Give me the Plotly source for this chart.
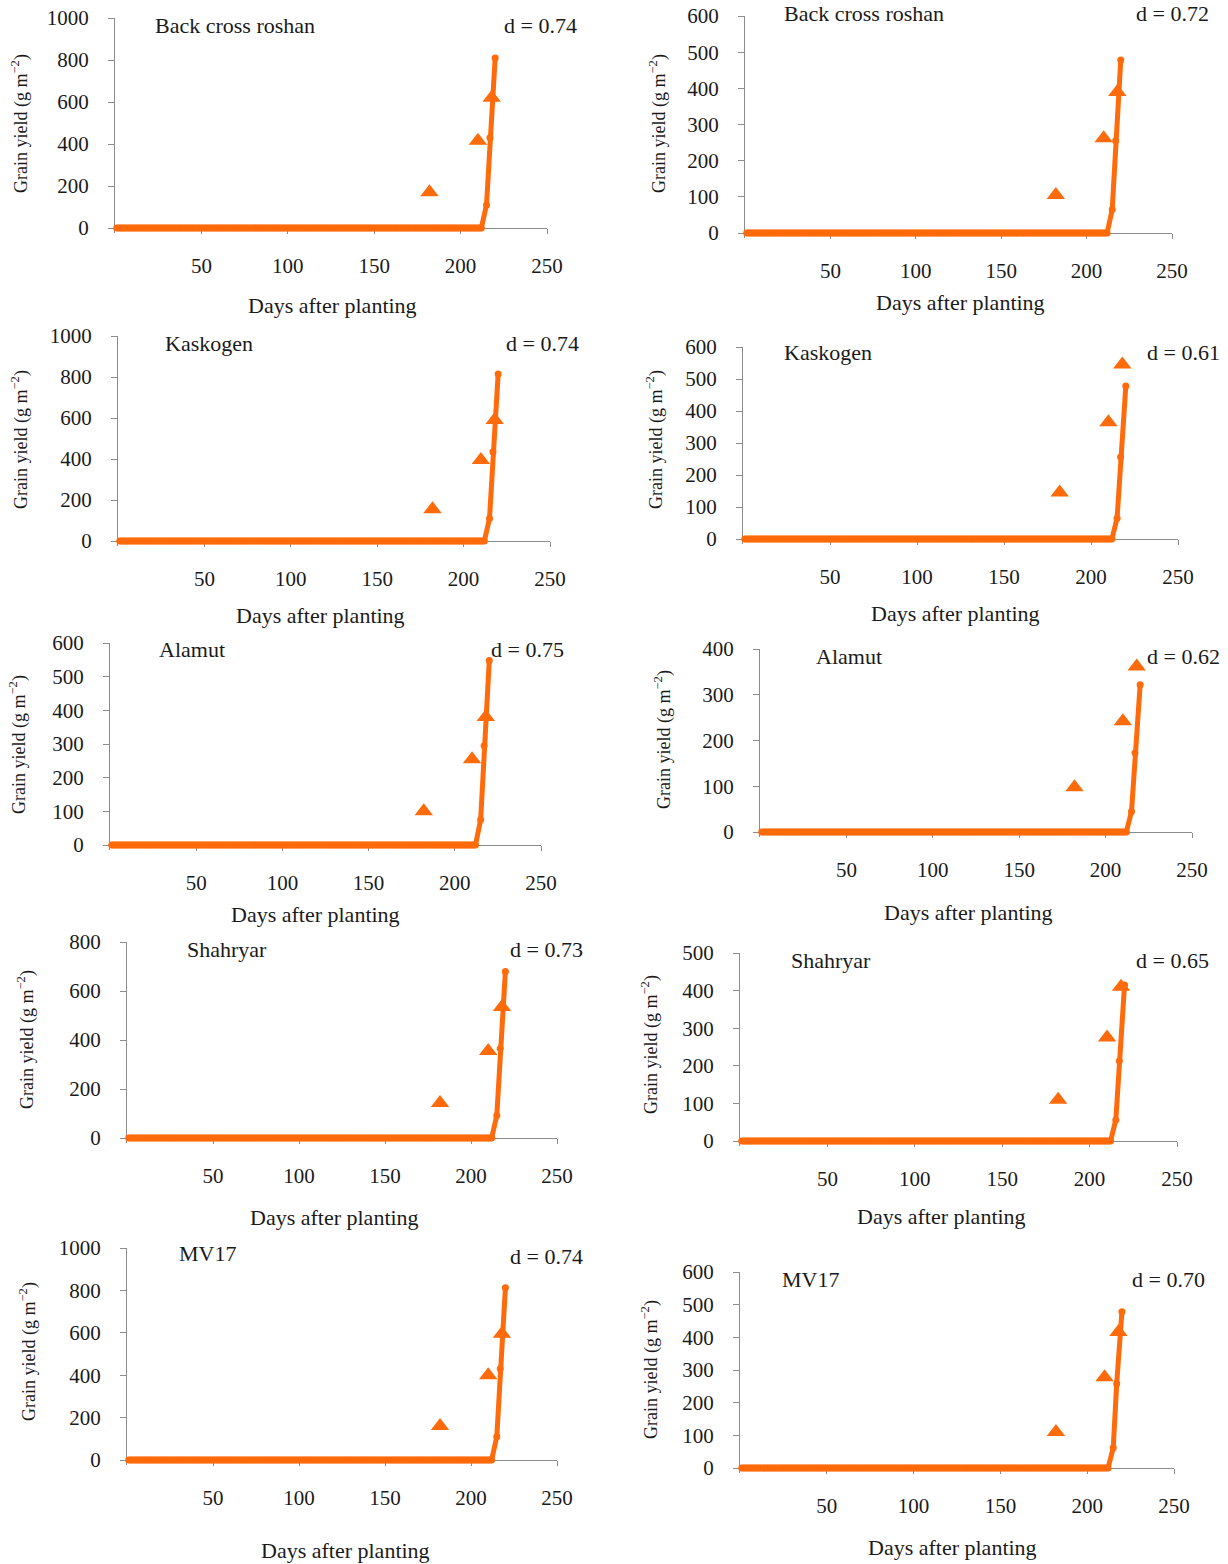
import plotly.graph_objects as go

# ---------------- data ----------------
cultivars = ["Back cross roshan", "Back cross roshan", "Kaskogen", "Kaskogen",
             "Alamut", "Alamut", "Shahryar", "Shahryar", "MV17", "MV17"]
d_values = ["0.74", "0.72", "0.74", "0.61", "0.75", "0.62", "0.73", "0.65", "0.74", "0.70"]
y_max = [1000, 600, 1000, 600, 600, 400, 800, 500, 1000, 600]
y_dtick = [200, 100, 200, 100, 100, 100, 200, 100, 200, 100]
x_ticks = [50, 100, 150, 200, 250]

# simulated: zero from day 1 to day 211, then rising tail
sim_flat_days = list(range(1, 212))
sim_tail_days = [212, 215, 217, 220]
sim_tail_values = [
    [0, 110, 430, 810],
    [0, 65, 255, 478],
    [0, 110, 435, 815],
    [0, 65, 256, 478],
    [0, 75, 295, 548],
    [0, 45, 173, 322],
    [0, 92, 365, 680],
    [0, 56, 213, 415],
    [0, 110, 430, 812],
    [0, 62, 258, 478],
]

# observed
obs_days = [182, 210, 218]
obs_values = [
    [170, 415, 620],
    [105, 262, 390],
    [155, 395, 590],
    [145, 365, 545],
    [100, 255, 380],
    [98, 242, 362],
    [143, 355, 535],
    [110, 275, 410],
    [160, 400, 595],
    [110, 278, 416],
]

# ---------------- layout geometry (reference pixels) ----------------
W, H = 1228, 1564
# (y-axis x, x=250 px, y=0 px, y=top px, ytitle x, ytitle yc, xtitle xc, xtitle y, name x, name y, d x, d y)
geom = [
    (115, 547, 228, 18, 20, 124, 332, 305, 153, 25, 502, 25),
    (745, 1172, 233, 16, 658, 124, 960, 302, 782, 13, 1134, 13),
    (118, 550, 541, 336, 20, 440, 320, 615, 163, 343, 504, 343),
    (743, 1178, 539, 347, 655, 440, 955, 614, 782, 352, 1145, 352),
    (110, 541, 845, 643, 18, 745, 315, 914, 157, 649, 489, 649),
    (760, 1192, 832, 649, 663, 740, 968, 912, 814, 656, 1145, 656),
    (127, 557, 1138, 942, 26, 1040, 334, 1217, 185, 949, 508, 949),
    (740, 1177, 1141, 953, 650, 1045, 941, 1216, 789, 960, 1134, 960),
    (127, 557, 1460, 1248, 28, 1352, 345, 1550, 177, 1253, 508, 1256),
    (740, 1174, 1468, 1272, 650, 1370, 952, 1547, 780, 1279, 1130, 1279),
]

ORANGE = "#FF6A0A"
AXIS_COL = "#8c8c8c"
FONT = "Liberation Serif"
TXT = "#1a1a1a"

def px(x):
    return x / W

def py(y):
    return 1 - y / H

fig = go.Figure()
layout = dict(width=W, height=H, margin=dict(l=0, r=0, t=0, b=0, pad=0, autoexpand=False),
              autosize=False, paper_bgcolor="white", plot_bgcolor="white", showlegend=False,
              font=dict(family=FONT, color=TXT))
annotations = []
PAD = 5  # px below zero so the thick line is not clipped

for i in range(10):
    (xa, x250, y0, ytop, ytx, tyc, xtx, xty, nx, ny, dx, dy) = geom[i]
    sfx = "" if i == 0 else str(i + 1)
    ppu = (y0 - ytop) / y_max[i]
    ymin = -PAD / ppu
    dom_bottom = y0 + PAD

    sim_x = sim_flat_days + sim_tail_days
    sim_y = [0] * len(sim_flat_days) + sim_tail_values[i]

    fig.add_trace(go.Scatter(
        x=sim_x, y=sim_y, mode="lines+markers",
        line=dict(color=ORANGE, width=5),
        marker=dict(color=ORANGE, size=7, symbol="circle"),
        xaxis="x" + sfx, yaxis="y" + sfx, cliponaxis=False, hoverinfo="skip"))
    fig.add_trace(go.Scatter(
        x=obs_days, y=obs_values[i], mode="markers",
        marker=dict(color=ORANGE, size=16, symbol="triangle-up"),
        xaxis="x" + sfx, yaxis="y" + sfx, cliponaxis=False, hoverinfo="skip"))

    layout["xaxis" + sfx] = dict(
        domain=[px(xa), px(x250)], range=[0, 250], anchor="free",
        position=py(y0), tickvals=x_ticks, ticks="outside", ticklen=5,
        tickcolor=AXIS_COL, showline=True, linecolor=AXIS_COL, linewidth=1,
        showgrid=False, zeroline=False, ticklabelstandoff=14, automargin=False,
        layer="below traces", ticklabeloverflow="allow",
        tickfont=dict(family=FONT, size=21, color=TXT))
    layout["yaxis" + sfx] = dict(
        domain=[py(dom_bottom), py(ytop)], range=[ymin, y_max[i]],
        anchor="x" + sfx, tickmode="linear", tick0=0, dtick=y_dtick[i],
        ticks="outside", ticklen=6, tickcolor=AXIS_COL, showline=True,
        linecolor=AXIS_COL, linewidth=1, showgrid=False, zeroline=False,
        ticklabelstandoff=15, automargin=False, layer="below traces",
        ticklabeloverflow="allow",
        tickfont=dict(family=FONT, size=21, color=TXT))

    annotations.append(dict(text=cultivars[i], x=px(nx), y=py(ny), xref="paper", yref="paper",
                            xanchor="left", yanchor="middle", showarrow=False,
                            font=dict(family=FONT, size=22, color=TXT)))
    annotations.append(dict(text="d = " + d_values[i], x=px(dx), y=py(dy), xref="paper", yref="paper",
                            xanchor="left", yanchor="middle", showarrow=False,
                            font=dict(family=FONT, size=22, color=TXT)))
    annotations.append(dict(text="Days after planting", x=px(xtx), y=py(xty), xref="paper", yref="paper",
                            xanchor="center", yanchor="middle", showarrow=False,
                            font=dict(family=FONT, size=22, color=TXT)))
    annotations.append(dict(text="Grain yield (g m<sup>\u22122</sup>)", x=px(ytx), y=py(tyc),
                            xref="paper", yref="paper", textangle=-90,
                            xanchor="center", yanchor="middle", showarrow=False,
                            font=dict(family=FONT, size=18, color=TXT)))

layout["annotations"] = annotations
fig.update_layout(**layout)
# remove the default page margin so the figure fills the window exactly
fig.write_html("out.html", config={"displayModeBar": False},
               post_script="document.body.style.margin='0';")
